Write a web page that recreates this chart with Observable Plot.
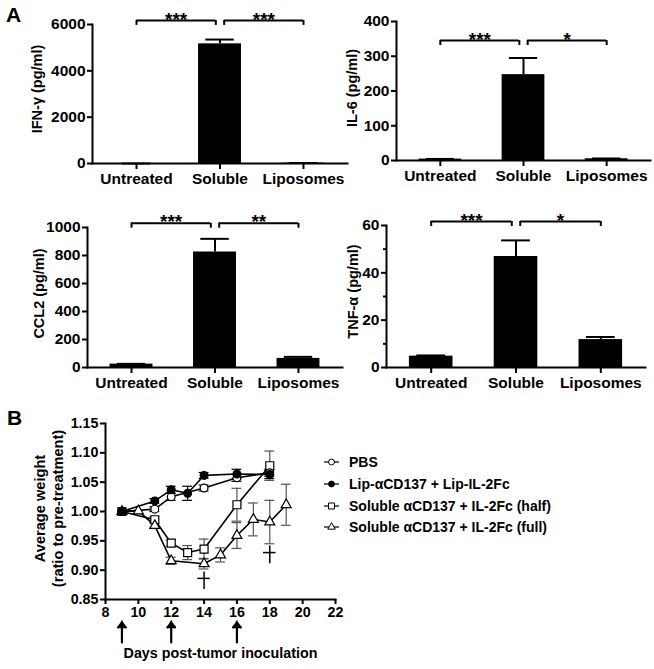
<!DOCTYPE html>
<html><head><meta charset="utf-8">
<script src="https://cdn.jsdelivr.net/npm/d3@7"></script>
<script src="https://cdn.jsdelivr.net/npm/@observablehq/plot@0.6"></script>
<style>
body{margin:0;background:#fff;}
#fig{position:relative;width:654px;height:669px;font-family:"Liberation Sans",Arial,sans-serif;font-weight:bold;color:#000;overflow:hidden;background:#fff}
.p{position:absolute}
.plbl{position:absolute;font-size:21px;font-weight:bold;line-height:21px}
.lg{position:absolute;left:324px;height:16px;line-height:16px;font-size:14px;font-weight:bold;white-space:nowrap;display:flex;align-items:center}
.lg svg{margin-right:10px}
</style></head><body><div id="fig"></div>
<script>
// ---------- Panel A data ----------
const categories = ["Untreated", "Soluble", "Liposomes"];
const ifnMean = [0, 5165, 15];
const ifnErr = [0, 185, 5];
const il6Mean = [4, 247, 5];
const il6Err = [0.5, 48, 0.8];
const ccl2Mean = [24, 825, 65];
const ccl2Err = [2, 94, 11];
const tnfMean = [4.8, 46.9, 11.8];
const tnfErr = [0.3, 6.8, 1.1];
const ifnTicks = [0, 2000, 4000, 6000];
const il6Ticks = [0, 100, 200, 300, 400];
const ccl2Ticks = [0, 200, 400, 600, 800, 1000];
const tnfTicks = [0, 20, 40, 60];
const tnfMinor = [10, 30, 50];
const ifnStars = ["***", "***"];
const il6Stars = ["***", "*"];
const ccl2Stars = ["***", "**"];
const tnfStars = ["***", "*"];
const ifnBracket = 6170;
const il6Bracket = 345;
const ccl2Bracket = 1030;
const tnfBracket = 61.7;

// ---------- Panel B data ----------
const seriesNames = ["PBS", "Lip-\u03b1CD137 + Lip-IL-2Fc", "Soluble \u03b1CD137 + IL-2Fc (half)", "Soluble \u03b1CD137 + IL-2Fc (full)"];
const pbsDays = [9, 11, 12, 14, 16, 18];
const pbsMean = [1.000, 1.004, 1.025, 1.040, 1.0575, 1.066];
const pbsErr  = [0, 0.004, 0.006, 0.005, 0.006, 0.006];
const lipDays = [9, 11, 12, 13, 14, 16, 18];
const lipMean = [1.000, 1.018, 1.037, 1.031, 1.0615, 1.064, 1.063];
const lipErr  = [0, 0.004, 0.006, 0.012, 0.005, 0.008, 0.007];
const halfDays = [9, 11, 12, 13, 14, 16, 18];
const halfMean = [1.000, 0.986, 0.946, 0.930, 0.936, 1.0115, 1.078];
const halfErr  = [0, 0.005, 0.005, 0.012, 0.017, 0.028, 0.025];
const fullDays = [9, 10, 11, 12, 14, 15, 16, 17, 18, 19];
const fullMean = [1.000, 1.001, 0.976, 0.916, 0.911, 0.926, 0.959, 0.9865, 0.982, 1.0115];
const fullErr  = [0, 0, 0.005, 0.006, 0.009, 0.012, 0.022, 0.028, 0.037, 0.035];
const deathDays = [14, 18];
const deathWeights = [0.886, 0.930];
const doseDays = [9, 12, 16];
const bXTicks = [8, 10, 12, 14, 16, 18, 20, 22];
const bYTicks = [0.85, 0.90, 0.95, 1.00, 1.05, 1.10, 1.15];

const FONT = '"Liberation Sans", Arial, sans-serif';
const fig = document.getElementById("fig");
function place(node, left, top) {
  const d = document.createElement("div");
  d.className = "p"; d.style.left = left + "px"; d.style.top = top + "px";
  d.appendChild(node); fig.appendChild(d);
}

function barPanel(o) {
  const data = categories.map((c, i) => ({i, c, v: o.mean[i], e: o.err[i]}));
  const hw = 0.257, capHw = 0.17, gap = 0.05;
  const drop = o.yMax * 0.035;
  const br = [{a: 0, b: 1 - gap, s: o.stars[0]}, {a: 1 + gap, b: 2, s: o.stars[1]}];
  const ends = br.flatMap(d => [{x: d.a}, {x: d.b}]);
  const marks = [
    Plot.rectY(data, {x1: d => d.i - hw, x2: d => d.i + hw, y: "v", fill: "#000"}),
    Plot.ruleX(data, {x: "i", y1: "v", y2: d => d.v + d.e, strokeWidth: 2}),
    Plot.ruleY(data, {x1: d => d.i - capHw, x2: d => d.i + capHw, y: d => d.v + d.e, strokeWidth: 2}),
    Plot.axisY(o.ticks, {tickSize: 5, tickPadding: 2, strokeWidth: 2, label: null, tickFormat: d => String(d)}),
    Plot.axisX([0, 1, 2], {tickFormat: i => categories[i], tickSize: 6, tickPadding: 3, strokeWidth: 2, label: null}),
    Plot.frame({anchor: "left", strokeWidth: 2}),
    Plot.frame({anchor: "bottom", strokeWidth: 2}),
    Plot.ruleY(br, {x1: "a", x2: "b", y: () => o.bracket, strokeWidth: 2}),
    Plot.ruleX(ends, {x: "x", y1: () => o.bracket - drop, y2: () => o.bracket, strokeWidth: 2}),
    Plot.text(br, {x: d => (d.a + d.b) / 2, y: () => o.bracket, text: "s", fontSize: 19, dy: -1}),
    Plot.text([o.label], {frameAnchor: "left", textAnchor: "middle", rotate: -90, dx: o.labelDx, dy: o.labelDy, fontSize: 14.5, text: d => d})
  ];
  if (o.minor) marks.push(Plot.axisY(o.minor, {tickSize: 3, strokeWidth: 2, tickFormat: () => "", label: null}));
  return Plot.plot({
    width: o.width, height: o.height,
    marginLeft: o.mL, marginRight: o.mR, marginTop: o.mT, marginBottom: o.mB,
    x: {domain: [-0.527, 2.527]},
    y: {domain: [0, o.yMax]},
    style: {fontFamily: FONT, fontWeight: "bold", fontSize: "15.5px", color: "#000", background: "transparent", overflow: "visible"},
    marks
  });
}

place(barPanel({mean: ifnMean, err: ifnErr, yMax: 6000, ticks: ifnTicks, stars: ifnStars, bracket: ifnBracket,
  label: "IFN-\u03b3 (pg/ml)", labelDx: -55, labelDy: -5,
  width: 350, height: 195, mL: 92, mR: 3, mT: 24, mB: 32}), 0, 0);
place(barPanel({mean: il6Mean, err: il6Err, yMax: 400, ticks: il6Ticks, stars: il6Stars, bracket: il6Bracket,
  label: "IL-6 (pg/ml)", labelDx: -44, labelDy: -3,
  width: 324, height: 195, mL: 66, mR: 4, mT: 21, mB: 35}), 330, 0);
place(barPanel({mean: ccl2Mean, err: ccl2Err, yMax: 1000, ticks: ccl2Ticks, stars: ccl2Stars, bracket: ccl2Bracket,
  label: "CCL2 (pg/ml)", labelDx: -48, labelDy: -4,
  width: 345, height: 200, mL: 87, mR: 3, mT: 32, mB: 28}), 0, 195);
place(barPanel({mean: tnfMean, err: tnfErr, yMax: 60, ticks: tnfTicks, minor: tnfMinor, stars: tnfStars, bracket: tnfBracket,
  label: "TNF-\u03b1 (pg/ml)", labelDx: -33, labelDy: -5,
  width: 324, height: 200, mL: 56, mR: 9, mT: 30, mB: 28}), 330, 195);

// ---------- Panel B ----------
const series = [
  {days: pbsDays, mean: pbsMean, err: pbsErr, symbol: "circle", r: 3.9, fill: "#fff", errColor: "#000"},
  {days: lipDays, mean: lipMean, err: lipErr, symbol: "circle", r: 3.9, fill: "#000", errColor: "#000"},
  {days: halfDays, mean: halfMean, err: halfErr, symbol: "square", r: 4.5, fill: "#fff", errColor: "#555"},
  {days: fullDays, mean: fullMean, err: fullErr, symbol: "triangle", r: 3.7, fill: "#fff", errColor: "#555"}
];
const bMarks = [];
series.forEach((s, k) => {
  const rows = s.days.map((d, j) => ({k, day: d, w: s.mean[j], e: s.err[j]})).filter(r => r.e > 0);
  const caps = rows.flatMap(r => [{day: r.day, cy: r.w - r.e}, {day: r.day, cy: r.w + r.e}]);
  bMarks.push(Plot.ruleX(rows, {x: "day", y1: d => d.w - d.e, y2: d => d.w + d.e, stroke: s.errColor, strokeWidth: 1.2}));
  bMarks.push(Plot.ruleY(caps, {x1: d => d.day - 0.3, x2: d => d.day + 0.3, y: "cy", stroke: s.errColor, strokeWidth: 1.2}));
});
series.forEach((s, k) => {
  const rows = s.days.map((d, j) => ({day: d, w: s.mean[j]}));
  bMarks.push(Plot.line(rows, {x: "day", y: "w", stroke: "#000", strokeWidth: 1.6}));
});
[2, 3, 0, 1].forEach(k => {
  const s = series[k];
  const rows = s.days.map((d, j) => ({day: d, w: s.mean[j]}));
  bMarks.push(Plot.dot(rows, {x: "day", y: "w", symbol: s.symbol, r: s.r, fill: s.fill, stroke: "#000", strokeWidth: 1.2}));
});
const deaths = deathDays.map((d, i) => ({day: d, w: deathWeights[i]}));
bMarks.push(Plot.ruleX(deaths, {x: "day", y1: d => d.w - 0.019, y2: d => d.w + 0.011, stroke: "#000", strokeWidth: 1.5}));
bMarks.push(Plot.ruleY(deaths, {x1: d => d.day - 0.38, x2: d => d.day + 0.38, y: "w", stroke: "#000", strokeWidth: 1.5}));
bMarks.push(Plot.axisY(bYTicks, {tickFormat: d3.format(".2f"), tickSize: 5, tickPadding: 2, strokeWidth: 2, label: null}));
bMarks.push(Plot.axisX(bXTicks, {tickSize: 5, tickPadding: 2, strokeWidth: 2, label: null}));
bMarks.push(Plot.frame({anchor: "left", strokeWidth: 2}));
bMarks.push(Plot.frame({anchor: "bottom", strokeWidth: 2}));
bMarks.push(Plot.vector(doseDays, {x: d => d, frameAnchor: "bottom", length: 19, rotate: 0, anchor: "start", dy: 43, stroke: "#000", strokeWidth: 2.2}));
bMarks.push(Plot.dot(doseDays, {x: d => d, frameAnchor: "bottom", dy: 26, symbol: "triangle", r: 3.3, fill: "#000", stroke: "#000", strokeWidth: 0.5}));
bMarks.push(Plot.text(["Days post-tumor inoculation"], {frameAnchor: "bottom", dy: 58, fontSize: 14.3, text: d => d}));
bMarks.push(Plot.text(["Average weight\n(ratio to pre-treatment)"], {frameAnchor: "left", textAnchor: "middle", rotate: -90, dx: -57, dy: -3, fontSize: 14.6, lineHeight: 1.25, text: d => d}));

place(Plot.plot({
  width: 340, height: 269, marginLeft: 105, marginRight: 5, marginTop: 23, marginBottom: 70,
  x: {domain: [8, 22]},
  y: {domain: [0.85, 1.15]},
  style: {fontFamily: FONT, fontWeight: "bold", fontSize: "14.3px", color: "#000", background: "transparent", overflow: "visible"},
  marks: bMarks
}), 0, 400);

// legend
const rowCenters = [462, 484, 506, 527];
series.forEach((s, k) => {
  const row = document.createElement("div");
  row.className = "lg";
  row.style.top = (rowCenters[k] - 8) + "px";
  const svg = d3.create("svg").attr("width", 15).attr("height", 12);
  svg.append("line").attr("x1", 0).attr("x2", 15).attr("y1", 6).attr("y2", 6).attr("stroke", "#000").attr("stroke-width", 1.2);
  const sym = {circle: d3.symbolCircle, square: d3.symbolSquare, triangle: d3.symbolTriangle}[s.symbol];
  svg.append("path").attr("d", d3.symbol(sym, Math.PI * (s.r * 0.75) ** 2)()).attr("transform", "translate(7.5,6)")
    .attr("fill", s.fill).attr("stroke", "#000").attr("stroke-width", 1);
  row.appendChild(svg.node());
  const t = document.createElement("span"); t.textContent = seriesNames[k];
  row.appendChild(t);
  fig.appendChild(row);
});

// panel letters
[["A", 6, 4], ["B", 7, 407]].forEach(([t, x, y]) => {
  const d = document.createElement("div"); d.className = "plbl"; d.textContent = t;
  d.style.left = x + "px"; d.style.top = y + "px"; fig.appendChild(d);
});
</script>
</body></html>
